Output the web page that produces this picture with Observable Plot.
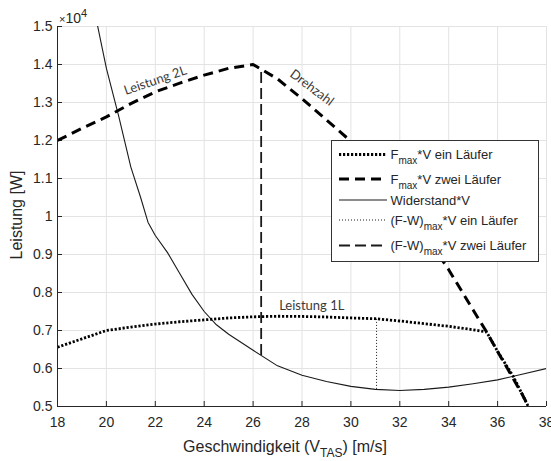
<!DOCTYPE html>
<html><head><meta charset="utf-8">
<script src="https://cdn.jsdelivr.net/npm/d3@7"></script>
<script src="https://cdn.jsdelivr.net/npm/@observablehq/plot@0.6"></script>
<style>
html,body{margin:0;padding:0;background:#fff;}
#chart{width:551px;height:461px;}
</style></head><body><div id="chart"></div>
<script>
// tick values
const xTicks = [18, 20, 22, 24, 26, 28, 30, 32, 34, 36, 38];
const yGrid = [5000, 6000, 7000, 8000, 9000, 10000, 11000, 12000, 13000, 14000, 15000];

// F_max*V ein Läufer
const einV = [18, 19, 20, 21, 22, 23, 24, 25, 26, 27, 28, 29, 30, 31, 32, 33, 34, 35, 35.55, 36, 36.65, 37, 37.2, 37.4];
const einP = [6560, 6780, 7000, 7090, 7170, 7230, 7280, 7330, 7360, 7375, 7370, 7355, 7330, 7310, 7250, 7180, 7110, 7020, 6960, 6450, 5780, 5330, 5070, 4830];

// F_max*V zwei Läufer
const zweiV = [18, 19, 20, 21, 22, 23, 24, 25, 26, 27, 28, 29, 30, 31, 32, 33, 34, 35, 35.55, 36, 37, 37.4];
const zweiP = [12000, 12320, 12620, 12970, 13280, 13510, 13720, 13900, 14000, 13620, 13100, 12540, 11980, 11200, 10400, 9550, 8600, 7540, 6960, 6450, 5330, 4830];

// Widerstand*V
const wV = [19.5, 20, 20.5, 21, 21.4, 21.7, 22, 22.5, 23, 23.5, 24, 24.5, 25, 26, 27, 28, 29, 30, 31, 32, 33, 34, 35, 36, 37, 38];
const wP = [15450, 13900, 12650, 11300, 10500, 9850, 9500, 9050, 8500, 7950, 7500, 7150, 6900, 6480, 6070, 5820, 5660, 5530, 5450, 5420, 5450, 5510, 5600, 5700, 5850, 6000];

// (F-W)_max*V markers
const fwEin = [{v: 31.05, p1: 5450, p2: 7310}];
const fwZwei = [{v: 26.33, p1: 6340, p2: 13870}];

// annotations
const notes = [
  {text: "Leistung 2L", v: 22.0, p: 13580, rot: -19},
  {text: "Drehzahl", v: 28.4, p: 13390, rot: 37},
  {text: "Leistung 1L", v: 28.4, p: 7660, rot: 0}
];

const legendItems = [
  {main: "F", sub: "max", rest: "*V ein Läufer", style: "ein"},
  {main: "F", sub: "max", rest: "*V zwei Läufer", style: "zwei"},
  {main: "Widerstand*V", sub: "", rest: "", style: "w"},
  {main: "(F-W)", sub: "max", rest: "*V ein Läufer", style: "fwein"},
  {main: "(F-W)", sub: "max", rest: "*V zwei Läufer", style: "fwzwei"}
];

const styles = {
  ein: {stroke: "#000", width: 2.8, dash: "2.2,1.8"},
  zwei: {stroke: "#000", width: 3, dash: "10,6"},
  w: {stroke: "#1a1a1a", width: 1.1, dash: null},
  fwein: {stroke: "#1a1a1a", width: 1, dash: "1,2"},
  fwzwei: {stroke: "#1a1a1a", width: 1.8, dash: "11,5"}
};

const ein = einV.map((v, i) => ({v, p: einP[i]}));
const zwei = zweiV.map((v, i) => ({v, p: zweiP[i]}));
const wid = wV.map((v, i) => ({v, p: wP[i]}));

const FONT = "'Liberation Sans', Arial, Helvetica, sans-serif";
const TXT = "#262626";

const svg = Plot.plot({
  width: 551, height: 461,
  marginLeft: 57, marginRight: 5, marginTop: 26, marginBottom: 55,
  style: {fontFamily: FONT, fontSize: "14px", color: TXT, background: "#fff", overflow: "visible"},
  x: {domain: [18, 38]},
  y: {domain: [5000, 15000]},
  marks: [
    Plot.gridX(xTicks, {stroke: "#e3e3e3", strokeOpacity: 1}),
    Plot.gridY(yGrid, {stroke: "#e3e3e3", strokeOpacity: 1}),
    Plot.axisX(xTicks, {tickSize: -5, tickPadding: 16, stroke: TXT, fill: TXT, fontSize: 14, label: null}),
    Plot.axisY(yGrid, {tickSize: -5, tickPadding: 10, stroke: TXT, fill: TXT, fontSize: 14, label: null, tickFormat: d => String(d / 10000)}),
    Plot.line(wid, {x: "v", y: "p", stroke: styles.w.stroke, strokeWidth: styles.w.width, strokeLinecap: "butt", clip: true}),
    Plot.ruleX(fwEin, {x: "v", y1: "p1", y2: "p2", stroke: styles.fwein.stroke, strokeWidth: styles.fwein.width, strokeDasharray: styles.fwein.dash, strokeLinecap: "butt"}),
    Plot.ruleX(fwZwei, {x: "v", y1: "p1", y2: "p2", stroke: styles.fwzwei.stroke, strokeWidth: styles.fwzwei.width, strokeDasharray: styles.fwzwei.dash, strokeLinecap: "butt"}),
    Plot.line(zwei, {x: "v", y: "p", stroke: styles.zwei.stroke, strokeWidth: styles.zwei.width, strokeDasharray: styles.zwei.dash, strokeLinecap: "butt", strokeLinejoin: "miter", clip: true}),
    Plot.line(ein, {x: "v", y: "p", stroke: styles.ein.stroke, strokeWidth: styles.ein.width, strokeDasharray: styles.ein.dash, strokeLinecap: "butt", strokeLinejoin: "miter", clip: true}),
    Plot.text(notes, {x: "v", y: "p", text: "text", rotate: "rot", fill: "#3a3a3a", fontSize: 13, fontFamily: "Lato, 'Open Sans', sans-serif"}),
    Plot.ruleX([18], {stroke: TXT, strokeWidth: 1}),
    Plot.ruleY([5000], {stroke: TXT, strokeWidth: 1})
  ]
});

document.getElementById("chart").appendChild(svg);
const s = d3.select(svg);

// ×10^4 multiplier
const mult = s.append("text").attr("x", 59).attr("y", 23).attr("text-anchor", "start").attr("fill", TXT).style("font-family", FONT).style("font-size", "14px");
mult.append("tspan").text("×").style("font-size", "11px");
mult.append("tspan").text("10");
mult.append("tspan").text("4").attr("dy", -6).style("font-size", "11px");

// x axis title
const xt = s.append("text").attr("x", 285).attr("y", 451.5).attr("text-anchor", "middle").attr("fill", TXT).style("font-family", FONT).style("font-size", "16px");
xt.append("tspan").text("Geschwindigkeit (V");
xt.append("tspan").text("TAS").attr("dy", 5).style("font-size", "12px");
xt.append("tspan").text(") [m/s]").attr("dy", -5);

// y axis title
s.append("text").attr("transform", "translate(22,215) rotate(-90)").attr("text-anchor", "middle").attr("fill", TXT)
  .style("font-family", FONT).style("font-size", "16px").text("Leistung [W]");

// legend
const lg = s.append("g");
lg.append("rect").attr("x", 331.5).attr("y", 140.5).attr("width", 207).attr("height", 121).attr("fill", "#fff").attr("stroke", "#333").attr("stroke-width", 1);
const rowY = [154.5, 179, 200, 220, 245.5];
legendItems.forEach((it, i) => {
  const st = styles[it.style];
  lg.append("line").attr("x1", 339).attr("x2", 387).attr("y1", rowY[i]).attr("y2", rowY[i])
    .attr("stroke", st.stroke).attr("stroke-width", st.width).attr("stroke-dasharray", st.dash).attr("stroke-linecap", "butt");
  const t = lg.append("text").attr("x", 390.5).attr("y", rowY[i] + 4.6).attr("text-anchor", "start").attr("fill", TXT).style("font-family", FONT).style("font-size", "13px");
  t.append("tspan").text(it.main);
  if (it.sub) {
    t.append("tspan").text(it.sub).attr("dy", 5).style("font-size", "10px");
    t.append("tspan").text(it.rest).attr("dy", -5);
  }
});
</script></body></html>
